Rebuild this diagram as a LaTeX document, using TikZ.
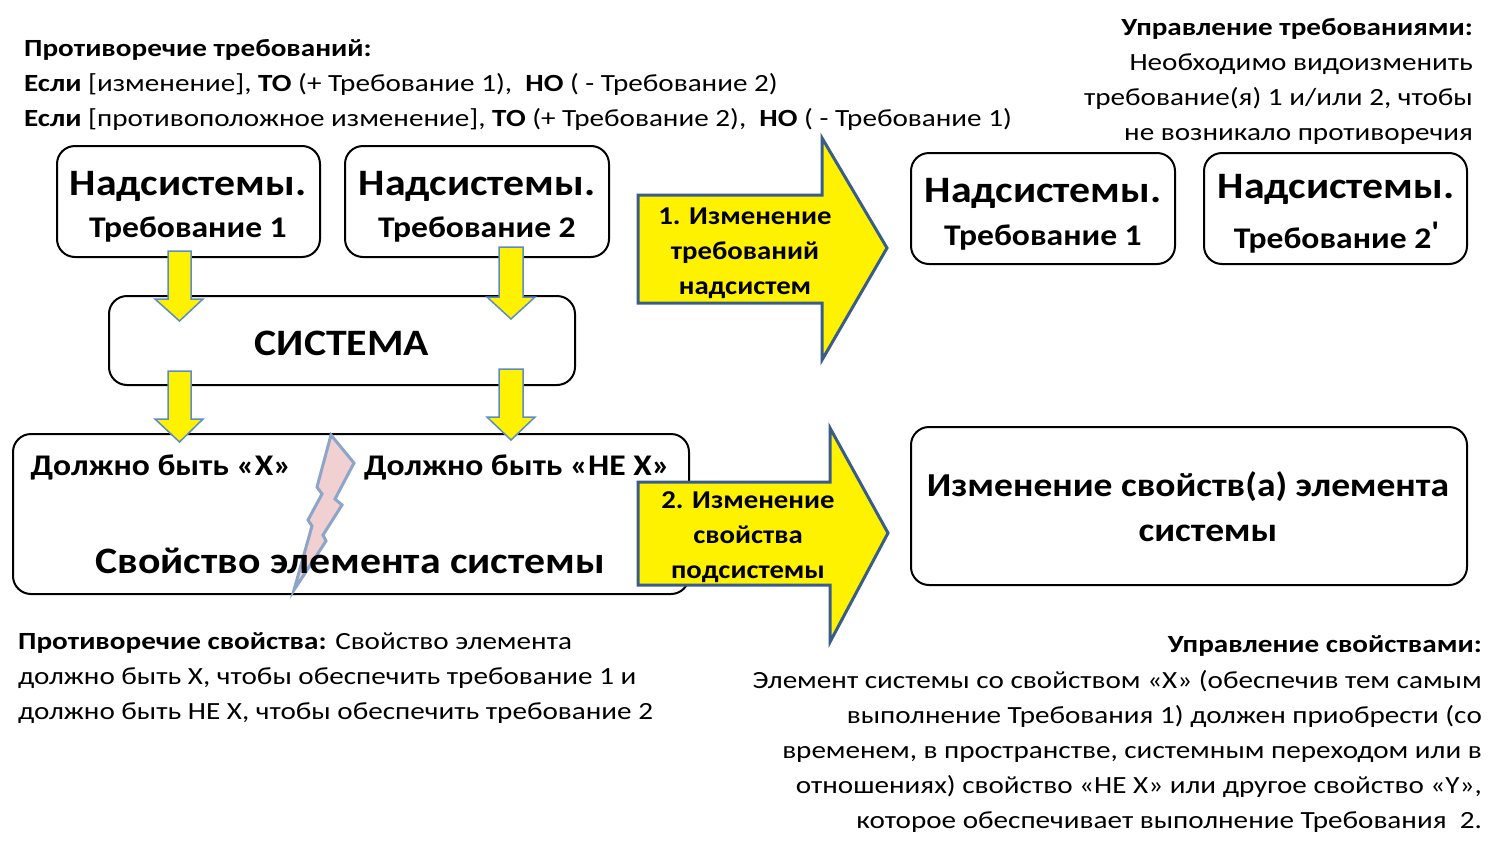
\documentclass[tikz,border=0pt]{standalone}
\usepackage{fontspec}
\setmainfont{Carlito}[FakeStretch=1.12]
\newfontfamily\bodyf{Carlito}[FakeStretch=1.18]
\begin{document}
\begin{tikzpicture}[x=1pt,y=-1pt,
  box/.style={draw=black,line width=2pt,rounded corners=18pt,fill=white},
  txt/.style={inner sep=0pt,font=\bodyf\fontsize{24.7}{35}\selectfont},
  ttl/.style={inner sep=0pt,anchor=base,font=\bfseries\fontsize{37.3}{40}\selectfont},
  sub/.style={inner sep=0pt,anchor=base,font=\bfseries\fontsize{30}{32}\selectfont},
  arr/.style={inner sep=0pt,anchor=base,font=\bfseries\fontsize{25.7}{28}\selectfont},
  ydown/.style={fill=yellow,draw={rgb,255:red,91;green,140;blue,200},line width=1.5pt,line join=miter},
  bigarr/.style={fill=yellow,draw={rgb,255:red,56;green,93;blue,138},line width=3pt,line join=miter},
  bolt/.style={fill={rgb,255:red,240;green,208;blue,208},draw={rgb,255:red,140;green,165;blue,200},line width=3pt,line join=miter}]
\useasboundingbox (0,0) rectangle (1509,854);
\fill[white] (0,0) rectangle (1509,854);

% top-left text
\node[txt,anchor=base west] (tl1) at (24,56) {\bfseries Противоречие требований:};
\node[txt,anchor=base west] (tl2) at (24,91) {\textbf{Если} [изменение], \textbf{ТО} (+ Требование 1),\ \ \textbf{НО} ( - Требование 2)};
\node[txt,anchor=base west] (tl3) at (24,126) {\textbf{Если} [противоположное изменение], \textbf{ТО} (+ Требование 2),\ \ \textbf{НО} ( - Требование 1)};

% top-right text
\node[txt,anchor=base east] (tr1) at (1473,35) {\bfseries Управление требованиями:};
\node[txt,anchor=base east] (tr2) at (1473,70) {Необходимо видоизменить};
\node[txt,anchor=base east] (tr3) at (1473,105) {требование(я) 1 и/или 2, чтобы};
\node[txt,anchor=base east] (tr4) at (1473,140) {не возникало противоречия};

% supersystem boxes
\draw[box] (57,146) rectangle (320,257);
\node[ttl] (n1a) at (188,195) {Надсистемы.};
\node[sub] (n1b) at (188,237) {Требование 1};
\draw[box] (345,146) rectangle (609,257);
\node[ttl] (n2a) at (477,195) {Надсистемы.};
\node[sub] (n2b) at (477,237) {Требование 2};

% system box
\draw[box] (109,296) rectangle (575,385);
\node[ttl] (sys) at (342,355) {СИСТЕМА};

% property box
\draw[box] (13,434) rectangle (689,594);
\draw[bolt] (331,435) -- (354,463) -- (335,499) -- (342,505) -- (323,535) -- (326,541) -- (294,590)
  -- (312,526) -- (308,520) -- (322,494) -- (317,487) -- cycle;
\node[sub] (px) at (161,475) {Должно быть «X»};
\node[sub] (pnx) at (517,475) {Должно быть «НЕ X»};
\node[ttl] (pel) at (350,573) {Свойство элемента системы};

% small yellow arrows
\draw[ydown] (168,251) -- (191,251) -- (191,299) -- (203,299) -- (179.5,321) -- (155,299) -- (168,299) -- cycle;
\draw[ydown] (499,247) -- (523,247) -- (523,297) -- (535,297) -- (511,319) -- (487,297) -- (499,297) -- cycle;
\draw[ydown] (168,371) -- (191,371) -- (191,419) -- (203,419) -- (179.5,442) -- (155,419) -- (168,419) -- cycle;
\draw[ydown] (499,369) -- (523,369) -- (523,417) -- (535,417) -- (511,440) -- (487,417) -- (499,417) -- cycle;

% big arrow 1
\draw[bigarr] (638,195) -- (822,195) -- (822,138) -- (887,248) -- (822,360) -- (822,303) -- (638,303) -- cycle;
\node[arr] (a1a) at (745,224) {1. Изменение};
\node[arr] (a1b) at (745,259) {требований};
\node[arr] (a1c) at (745,294) {надсистем};

% big arrow 2
\draw[bigarr] (638,482) -- (830,482) -- (830,428) -- (888,533) -- (830,642) -- (830,585) -- (638,585) -- cycle;
\node[arr] (a2a) at (748,508) {2. Изменение};
\node[arr] (a2b) at (748,543) {свойства};
\node[arr] (a2c) at (748,578) {подсистемы};

% right boxes
\draw[box] (911,153) rectangle (1175,264);
\node[ttl] (n3a) at (1043,202) {Надсистемы.};
\node[sub] (n3b) at (1043,245) {Требование 1};
\draw[box] (1204,153) rectangle (1467,264);
\node[ttl] (n4a) at (1336,198) {Надсистемы.};
\node[sub] (n4b) at (1336,248) {Требование 2\raisebox{0.35ex}{\textquotesingle}};

\draw[box] (911,427) rectangle (1467,585);
\node[inner sep=0pt,anchor=base,font=\bfseries\fontsize{33.5}{38}\selectfont] (ch1) at (1188,496) {Изменение свойств(а) элемента};
\node[inner sep=0pt,anchor=base,font=\bfseries\fontsize{33.5}{38}\selectfont] (ch2) at (1208,541) {системы};

% bottom-left text
\node[txt,anchor=base west] (bl1) at (18,649) {\textbf{Противоречие свойства:} Свойство элемента};
\node[txt,anchor=base west] (bl2) at (18,684) {должно быть X, чтобы обеспечить требование 1 и};
\node[txt,anchor=base west] (bl3) at (18,719) {должно быть НЕ X, чтобы обеспечить требование 2};

% bottom-right text
\node[txt,anchor=base east] (br1) at (1482,652) {\bfseries Управление свойствами:};
\node[txt,anchor=base east] (br2) at (1482,688) {Элемент системы со свойством «X» (обеспечив тем самым};
\node[txt,anchor=base east] (br3) at (1482,723) {выполнение Требования 1) должен приобрести (со};
\node[txt,anchor=base east] (br4) at (1482,758) {временем, в пространстве, системным переходом или в};
\node[txt,anchor=base east] (br5) at (1482,793) {отношениях) свойство «НЕ X» или другое свойство «Y»,};
\node[txt,anchor=base east] (br6) at (1482,828) {которое обеспечивает выполнение Требования\ \ 2.};
\end{tikzpicture}
\end{document}
